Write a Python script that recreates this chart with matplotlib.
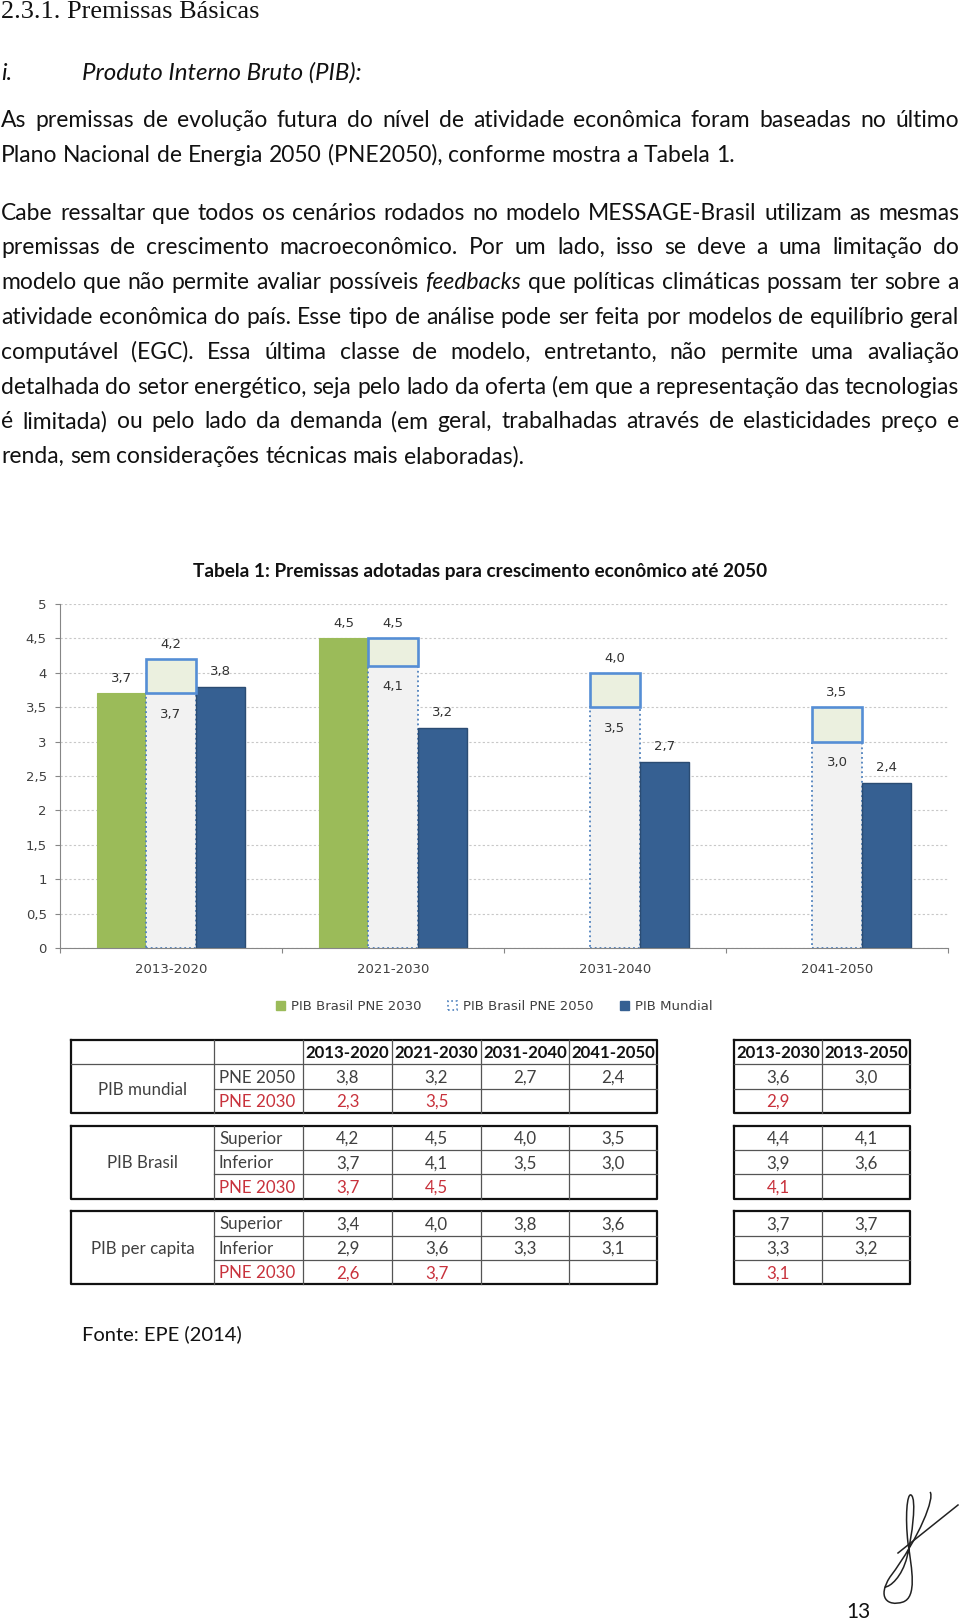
import numpy as np
import matplotlib
matplotlib.use("Agg")
import matplotlib.pyplot as plt
from matplotlib.patches import Patch, PathPatch
from matplotlib.path import Path

# ---- data ----
periods = ["2013-2020", "2021-2030", "2031-2040", "2041-2050"]
totals = ["2013-2030", "2013-2050"]
nan = np.nan

mundial_pne2050 = [3.8, 3.2, 2.7, 2.4]
mundial_pne2030 = [2.3, 3.5, nan, nan]
brasil_superior = [4.2, 4.5, 4.0, 3.5]
brasil_inferior = [3.7, 4.1, 3.5, 3.0]
brasil_pne2030 = [3.7, 4.5, nan, nan]
percap_superior = [3.4, 4.0, 3.8, 3.6]
percap_inferior = [2.9, 3.6, 3.3, 3.1]
percap_pne2030 = [2.6, 3.7, nan, nan]

mundial_tot_pne2050 = [3.6, 3.0]
mundial_tot_pne2030 = [2.9, nan]
brasil_tot_superior = [4.4, 4.1]
brasil_tot_inferior = [3.9, 3.6]
brasil_tot_pne2030 = [4.1, nan]
percap_tot_superior = [3.7, 3.7]
percap_tot_inferior = [3.3, 3.2]
percap_tot_pne2030 = [3.1, nan]

groups = ["PIB mundial", "PIB Brasil", "PIB per capita"]
sub_labels = [["PNE 2050", "PNE 2030"],
              ["Superior", "Inferior", "PNE 2030"],
              ["Superior", "Inferior", "PNE 2030"]]
group_rows = [[mundial_pne2050, mundial_pne2030],
              [brasil_superior, brasil_inferior, brasil_pne2030],
              [percap_superior, percap_inferior, percap_pne2030]]
group_tot_rows = [[mundial_tot_pne2050, mundial_tot_pne2030],
                  [brasil_tot_superior, brasil_tot_inferior, brasil_tot_pne2030],
                  [percap_tot_superior, percap_tot_inferior, percap_tot_pne2030]]

legend_labels = ["PIB Brasil PNE 2030", "PIB Brasil PNE 2050", "PIB Mundial"]

para1 = ["As premissas de evolução futura do nível de atividade econômica foram baseadas no último",
         "Plano Nacional de Energia 2050 (PNE2050), conforme mostra a Tabela 1."]
para2 = ["Cabe ressaltar que todos os cenários rodados no modelo MESSAGE-Brasil utilizam as mesmas",
         "premissas de crescimento macroeconômico. Por um lado, isso se deve a uma limitação do",
         "modelo que não permite avaliar possíveis _feedbacks_ que políticas climáticas possam ter sobre a",
         "atividade econômica do país. Esse tipo de análise pode ser feita por modelos de equilíbrio geral",
         "computável (EGC). Essa última classe de modelo, entretanto, não permite uma avaliação",
         "detalhada do setor energético, seja pelo lado da oferta (em que a representação das tecnologias",
         "é limitada) ou pelo lado da demanda (em geral, trabalhadas através de elasticidades preço e",
         "renda, sem considerações técnicas mais elaboradas)."]

GREEN = "#9bbb59"
BLUE = "#366092"
BOXEDGE = "#558ed5"
BODY = "Lato"
TXT = "#111111"
GRAY = "#404040"
RED = "#c8323c"
CHART_FS = 9.5


def fmt(v):
    return ("%.1f" % v).replace(".", ",")


W_PX, H_PX = 960, 1622
fig = plt.figure(figsize=(9.6, 16.22), dpi=100)
page = fig.add_axes([0, 0, 1, 1])
page.set_xlim(0, W_PX)
page.set_ylim(H_PX, 0)
page.axis("off")
renderer = fig.canvas.get_renderer()


def text_w(s, **kw):
    t = page.text(0, 0, s, **kw)
    w = t.get_window_extent(renderer=renderer).width
    t.remove()
    return w


def fit_size(s, target, base=12, **kw):
    return base * target / text_w(s, fontsize=base, **kw)


# ---- headings ----
fs_h = fit_size("2.3.1. Premissas Básicas", 257, family="Liberation Serif")
page.text(1, 18, "2.3.1. Premissas Básicas", family="Liberation Serif", fontsize=fs_h,
          va="baseline", color=TXT)
fs_i = fit_size("Produto Interno Bruto (PIB):", 279, family=BODY, style="italic")
page.text(1, 80, "i.", family=BODY, style="italic", fontsize=fs_i, va="baseline", color=TXT)
page.text(82, 80, "Produto Interno Bruto (PIB):", family=BODY, style="italic",
          fontsize=fs_i, va="baseline", color=TXT)

# ---- justified paragraphs ----
X0, X1 = 1, 959


def split_words(line):
    out = []
    for w in line.split(" "):
        if w.startswith("_") and w.endswith("_"):
            out.append((w.strip("_"), "italic"))
        else:
            out.append((w, "normal"))
    return out


base = 12
sp_base = text_w("a a", fontsize=base, family=BODY) - text_w("aa", fontsize=base, family=BODY)
nat = []
for line in para1[:1] + para2[:-1]:
    ws = split_words(line)
    nat.append(sum(text_w(w, fontsize=base, family=BODY, style=s) for w, s in ws)
               + sp_base * (len(ws) - 1))
fs_body = base * (X1 - X0) / max(nat) * 0.995
space = sp_base * fs_body / base


def draw_line(line, y, justify):
    ws = split_words(line)
    widths = [text_w(w, fontsize=fs_body, family=BODY, style=s) for w, s in ws]
    gap = (X1 - X0 - sum(widths)) / (len(ws) - 1) if justify else space
    x = X0
    for (w, s), wd in zip(ws, widths):
        page.text(x, y, w, fontsize=fs_body, family=BODY, style=s, va="baseline",
                  ha="left", color=TXT)
        x += wd + gap


for k, line in enumerate(para1):
    draw_line(line, 127 + 34.8 * k, k < len(para1) - 1)
for k, line in enumerate(para2):
    draw_line(line, 219.5 + 34.8 * k, k < len(para2) - 1)

# ---- table title ----
title = "Tabela 1: Premissas adotadas para crescimento econômico até 2050"
fs_t = fit_size(title, 571, family=BODY, weight="bold")
page.text(480, 577, title, family=BODY, weight="bold", fontsize=fs_t, ha="center",
          va="baseline", color=TXT)

# ---- chart ----
ax = fig.add_axes([60 / W_PX, 1 - 948 / H_PX, 888 / W_PX, 344 / H_PX])
x = np.arange(len(periods))
bw = 0.223
inf = np.array(brasil_inferior)
sup = np.array(brasil_superior)
green = np.array(brasil_pne2030)
blue = np.array(mundial_pne2050)
gm = ~np.isnan(green)

ax.bar(x[gm] - bw, green[gm], bw, color=GREEN, edgecolor=GREEN, linewidth=0.8, zorder=2)
ax.bar(x, inf, bw, color="#f2f2f2", edgecolor="#4f81bd", linestyle=":", linewidth=1.3, zorder=2)
ax.bar(x, sup - inf, bw, bottom=inf, color="#ebf0df", edgecolor=BOXEDGE, linewidth=1.9, zorder=3)
ax.bar(x + bw, blue, bw, color=BLUE, edgecolor="#2b4c73", linewidth=1.0, zorder=2)

lab = dict(textcoords="offset points", ha="center", va="center", fontsize=CHART_FS,
           color="#333333", family="DejaVu Sans")
for i in np.where(gm)[0]:
    ax.annotate(fmt(green[i]), (x[i] - bw, green[i]), xytext=(0, 11), **lab)
for i in range(len(x)):
    ax.annotate(fmt(sup[i]), (x[i], sup[i]), xytext=(0, 10.5), **lab)
    ax.annotate(fmt(inf[i]), (x[i], inf[i]), xytext=(0, -15), **lab)
    ax.annotate(fmt(blue[i]), (x[i] + bw, blue[i]), xytext=(0, 11), **lab)

ax.set_xlim(-0.5, len(periods) - 0.5)
ax.set_ylim(0, 5)
yt = np.arange(0, 5.01, 0.5)
ax.set_yticks(yt)
ax.set_yticklabels([("%d" % v) if v == int(v) else fmt(v) for v in yt])
ax.set_xticks(np.arange(-0.5, len(periods), 1.0))
ax.set_xticklabels([])
ax.set_xticks(x, minor=True)
ax.set_xticklabels(periods, minor=True)
ax.tick_params(axis="x", which="major", length=3.5, color="#868686", direction="out")
ax.tick_params(axis="x", which="minor", length=0, pad=11, labelsize=CHART_FS, labelcolor=GRAY)
ax.tick_params(axis="y", length=3.5, color="#868686", pad=6, labelsize=CHART_FS, labelcolor=GRAY)
for lbl in ax.get_xticklabels(minor=True) + ax.get_yticklabels():
    lbl.set_family("DejaVu Sans")
ax.grid(axis="y", color="#c8c8c8", linestyle=(0, (2, 2)), linewidth=0.8)
ax.set_axisbelow(True)
for s in ["top", "right"]:
    ax.spines[s].set_visible(False)
for s in ["left", "bottom"]:
    ax.spines[s].set_color("#868686")
ax.patch.set_alpha(0)

handles = [Patch(facecolor=GREEN, edgecolor=GREEN),
           Patch(facecolor="white", edgecolor="#4f81bd", linestyle=":", linewidth=1.2),
           Patch(facecolor=BLUE, edgecolor=BLUE)]
ax.legend(handles, legend_labels, loc="center", bbox_to_anchor=(494 / W_PX, 1 - 1007 / H_PX),
          bbox_transform=fig.transFigure, ncol=3, frameon=False, handlelength=0.7,
          handleheight=0.7, handletextpad=0.45, columnspacing=2.0, labelcolor=GRAY,
          prop={"family": "DejaVu Sans", "size": CHART_FS})

# ---- table ----
col_x = [71, 214, 303, 392, 481, 569, 657]
tot_x = [734, 822, 910]
row_h = 24.4
gap = 12.4
fs_tab = fit_size("PNE 2030", 76, family=BODY)
fs_head = fit_size("2013-2020", 84, family=BODY, weight="bold")
cap = 0.36 * fs_tab * 100 / 72
OUT = dict(color="#111111", linewidth=1.6)
INN = dict(color="#555555", linewidth=0.9)

for g, name in enumerate(groups):
    top = 1040 + g * (3 * row_h + gap)
    bot = top + 3 * row_h
    first = 1 if g == 0 else 0
    # outer boxes
    for xs in (col_x, tot_x):
        page.plot([xs[0], xs[-1], xs[-1], xs[0], xs[0]], [top, top, bot, bot, top], **OUT)
        for cx in xs[1:-1]:
            page.plot([cx, cx], [top, bot], **INN)
    for r in range(1, 3):
        yy = top + r * row_h
        x_start = col_x[0] if (g == 0 and r == 1) else col_x[1]
        page.plot([x_start, col_x[-1]], [yy, yy], **INN)
        page.plot([tot_x[0], tot_x[-1]], [yy, yy], **INN)
    if g == 0:
        hy = top + row_h / 2 + 0.36 * fs_head * 100 / 72
        for j, p in enumerate(periods):
            page.text((col_x[2 + j] + col_x[3 + j]) / 2, hy, p, family=BODY, weight="bold",
                      fontsize=fs_head, ha="center", va="baseline", color="#111111")
        for j, p in enumerate(totals):
            page.text((tot_x[j] + tot_x[j + 1]) / 2, hy, p, family=BODY, weight="bold",
                      fontsize=fs_head, ha="center", va="baseline", color="#111111")
    n = len(sub_labels[g])
    lab_y = top + first * row_h + n * row_h / 2 + cap
    page.text((col_x[0] + col_x[1]) / 2, lab_y, name, family=BODY, fontsize=fs_tab,
              ha="center", va="baseline", color=GRAY)
    for r in range(n):
        yy = top + (first + r) * row_h + row_h / 2 + cap
        c = RED if sub_labels[g][r] == "PNE 2030" else GRAY
        page.text(col_x[1] + 5, yy, sub_labels[g][r], family=BODY, fontsize=fs_tab,
                  ha="left", va="baseline", color=c)
        for j, v in enumerate(group_rows[g][r]):
            if not np.isnan(v):
                page.text((col_x[2 + j] + col_x[3 + j]) / 2, yy, fmt(v), family=BODY,
                          fontsize=fs_tab, ha="center", va="baseline", color=c)
        for j, v in enumerate(group_tot_rows[g][r]):
            if not np.isnan(v):
                page.text((tot_x[j] + tot_x[j + 1]) / 2, yy, fmt(v), family=BODY,
                          fontsize=fs_tab, ha="center", va="baseline", color=c)

fs_src = fit_size("Fonte: EPE (2014)", 160, family=BODY)
page.text(82, 1340, "Fonte: EPE (2014)", family=BODY, fontsize=fs_src, va="baseline", color=TXT)

# ---- signature and page number ----
C = Path.CURVE4
sig = Path([(930, 1492), (935, 1497), (920, 1537), (890, 1577),
            (877, 1597), (887, 1607), (903, 1602),
            (917, 1597), (912, 1570), (908, 1543),
            (905, 1517), (907, 1493), (911, 1495),
            (917, 1498), (912, 1537), (907, 1557),
            (902, 1577), (890, 1587), (885, 1587)],
           [Path.MOVETO] + [C] * 18)
page.add_patch(PathPatch(sig, facecolor="none", edgecolor="#222222", linewidth=1.1))
page.plot([958, 898], [1505, 1553], color="#222222", linewidth=1.1)
page.text(846, 1618, "13", family=BODY, fontsize=15, va="baseline", color=TXT)

fig.savefig("out.png", dpi=100)
